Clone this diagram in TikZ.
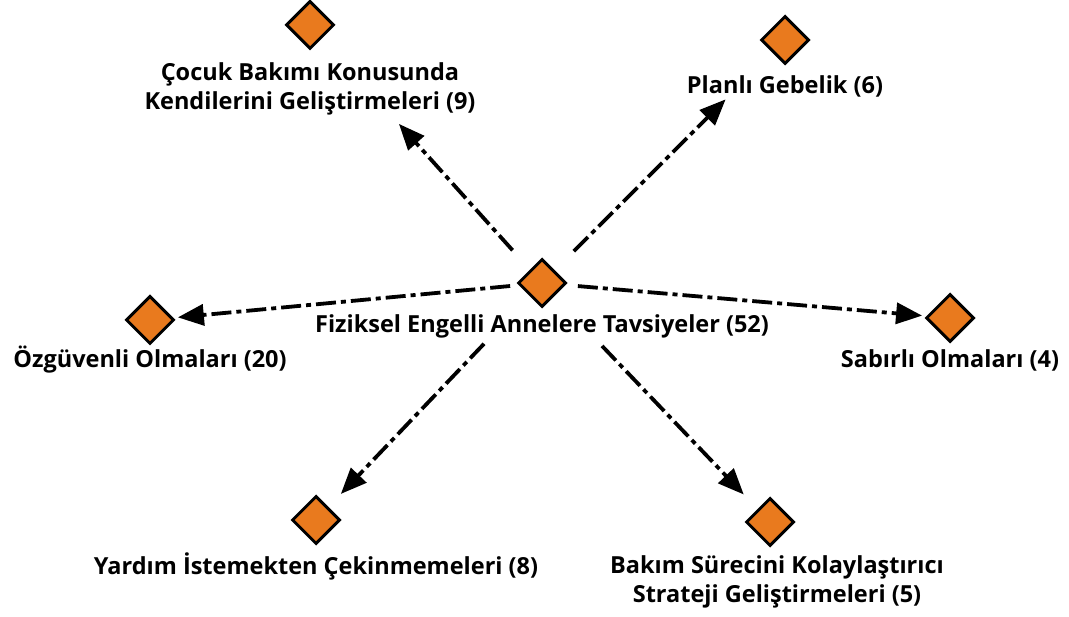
\documentclass[tikz,border=0pt]{standalone}
\usepackage{fontspec}
\setmainfont{Open Sans}
\usetikzlibrary{shapes.geometric,arrows.meta}
\definecolor{dorange}{RGB}{233,122,30}
\begin{document}
\begin{tikzpicture}[x=1pt,y=-1pt,
  gem/.style={diamond,draw=black,line width=3pt,fill=dorange,minimum width=48pt,minimum height=48pt,inner sep=0pt},
  lbl/.style={font=\fontsize{23.5}{29}\selectfont\bfseries,align=center,inner sep=0pt},
  link/.style={line width=3.8pt,dash pattern=on 20pt off 5pt on 5pt off 5pt,
    -{Triangle[length=26pt,width=21pt]}}]
\useasboundingbox (0,0) rectangle (1069,617);
% diamonds
\node[gem] (c)  at (542,283) {};
\node[gem] (tl) at (310,25) {};
\node[gem] (tr) at (785,40) {};
\node[gem] (l)  at (150,320) {};
\node[gem] (r)  at (950,318) {};
\node[gem] (bl) at (316,520) {};
\node[gem] (br) at (770,522) {};
% labels
\node[lbl] (tc) at (542,326) {Fiziksel Engelli Annelere Tavsiyeler (52)};
\node[lbl] (ttl) at (310,89) {Çocuk Bakımı Konusunda\\Kendilerini Geliştirmeleri (9)};
\node[lbl] (ttr) at (785,86) {Planlı Gebelik (6)};
\node[lbl] (tlf) at (150,360) {Özgüvenli Olmaları (20)};
\node[lbl] (trt) at (950,360) {Sabırlı Olmaları (4)};
\node[lbl] (tbl) at (316,566) {Yardım İstemekten Çekinmemeleri (8)};
\node[lbl] (tbr) at (777,582) {Bakım Sürecini Kolaylaştırıcı\\Strateji Geliştirmeleri (5)};
% connectors
\draw[link,shorten <=44pt,shorten >=133pt] (c.center) -- (tl.center);
\draw[link,shorten <=45pt,shorten >=84pt] (c.center) -- (tr.center);
\draw[link,shorten <=32pt,shorten >=28pt] (c.center) -- (l.center);
\draw[link,shorten <=36pt,shorten >=28pt] (c.center) -- (r.center);
\draw[link,shorten <=84pt,shorten >=36pt] (c.center) -- (bl.center);
\draw[link,shorten <=87pt,shorten >=38pt] (c.center) -- (br.center);
\end{tikzpicture}
\end{document}
